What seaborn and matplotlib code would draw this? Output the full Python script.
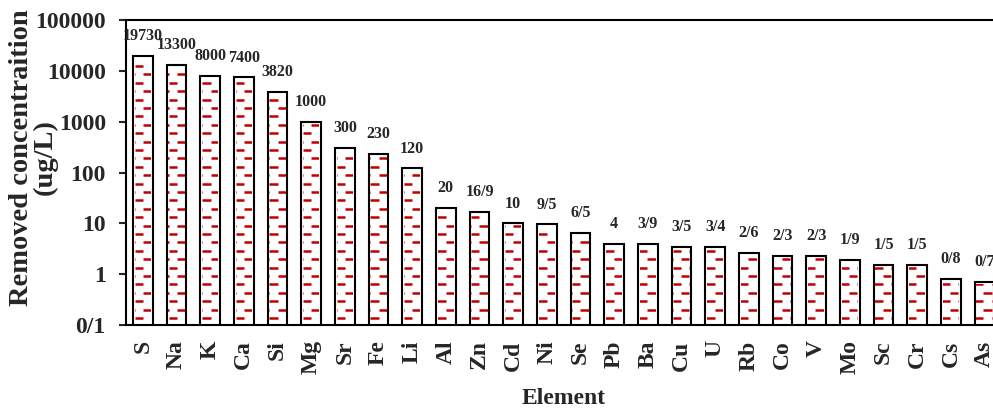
import numpy as np
import matplotlib
matplotlib.use('Agg')
import matplotlib.pyplot as plt
import seaborn as sns
from matplotlib.collections import LineCollection
from matplotlib.transforms import Bbox, IdentityTransform

elements = ['S', 'Na', 'K', 'Ca', 'Si', 'Mg', 'Sr', 'Fe', 'Li', 'Al', 'Zn', 'Cd', 'Ni',
            'Se', 'Pb', 'Ba', 'Cu', 'U', 'Rb', 'Co', 'V', 'Mo', 'Sc', 'Cr', 'Cs', 'As']
values = [19730, 13300, 8000, 7400, 3820, 1000, 300, 230, 120, 20, 16.9, 10, 9.5,
          6.5, 4, 3.9, 3.5, 3.4, 2.6, 2.3, 2.3, 1.9, 1.5, 1.5, 0.8, 0.7]
value_labels = ['19730', '13300', '8000', '7400', '3820', '1000', '300', '230', '120',
                '20', '16/9', '10', '9/5', '6/5', '4', '3/9', '3/5', '3/4', '2/6', '2/3',
                '2/3', '1/9', '1/5', '1/5', '0/8', '0/7']
ytick_values = [0.1, 1, 10, 100, 1000, 10000, 100000]
ytick_labels = ['0/1', '1', '10', '100', '1000', '10000', '100000']

sns.set_style('white')
plt.rcParams['font.family'] = ['Liberation Serif', 'DejaVu Serif']
plt.rcParams['font.weight'] = 'bold'
plt.rcParams['axes.labelweight'] = 'bold'

W, H = 993, 408
fig = plt.figure(figsize=(W / 100, H / 100), dpi=100)
ax = fig.add_axes([126 / W, 83 / H, 875.4 / W, 305 / H])

sns.barplot(x=elements, y=values, color='white', saturation=1, edgecolor='black',
            linewidth=1.5, width=0.58, errorbar=None, ax=ax)
ax.set_yscale('log')
ax.set_ylim(0.1, 100000)
ax.set_xlim(-0.5, len(elements) - 0.5)

# red staggered dash fill (pattern anchored in pixel space like the original)
ax_box = ax.get_window_extent()
step = 8.4
dash = 8.4
period = 16.8
xa0, ya0 = 135.0, H - 66.0
for p in ax.patches:
    bb = Bbox.intersection(p.get_window_extent(), ax_box)
    if bb is None:
        continue
    inner = Bbox.from_extents(bb.x0 + 1.5, bb.y0 + 1, bb.x1 - 1.5, bb.y1 - 2)
    segs = []
    k0 = int(np.ceil((inner.y0 - ya0) / step))
    k1 = int(np.floor((inner.y1 - ya0) / step))
    for k in range(k0, k1 + 1):
        y = ya0 + k * step
        shift = xa0 + (k % 2) * dash
        j0 = int(np.floor((inner.x0 - shift) / period)) - 1
        for j in range(j0, j0 + 5):
            xs = shift + j * period
            segs.append([(xs, y), (xs + dash, y)])
    lc = LineCollection(segs, colors='#c00000', linewidths=1.8,
                        transform=IdentityTransform(), zorder=p.get_zorder() + 0.1)
    ax.add_collection(lc, autolim=False)
    lc.set_clip_box(inner)

ax.bar_label(ax.containers[0], labels=value_labels, padding=8.5,
             fontsize=11.5, fontweight='bold')

# ticks: major at category borders, labels on minor ticks at the centres
n = len(elements)
ax.set_xticks(np.arange(n + 1) - 0.5, labels=[''] * (n + 1))
ax.set_xticks(np.arange(n), labels=elements, minor=True)
ax.tick_params(axis='x', which='major', direction='inout', length=14, width=1.5)
ax.tick_params(axis='x', which='minor', length=0, pad=11, labelsize=17,
               labelrotation=90)
ax.set_yticks(ytick_values, labels=ytick_labels)
ax.yaxis.set_minor_locator(matplotlib.ticker.NullLocator())
ax.tick_params(axis='y', which='major', direction='out', length=5, width=1.5,
               pad=9.5, labelsize=17, left=True)

for s in ['left', 'bottom', 'top']:
    ax.spines[s].set_linewidth(1.5)
    ax.spines[s].set_color('black')
ax.spines['right'].set_visible(False)

ax.set_xlabel('Element', fontsize=17, fontweight='bold')
ax.xaxis.set_label_coords(0.5, -0.205)
ax.set_ylabel('Removed concentraition\n(ug/L)', fontsize=20.5, fontweight='bold',
              linespacing=0.95)
ax.yaxis.set_label_coords(-0.0775, 0.55)

fig.savefig('out.png', dpi=100)
